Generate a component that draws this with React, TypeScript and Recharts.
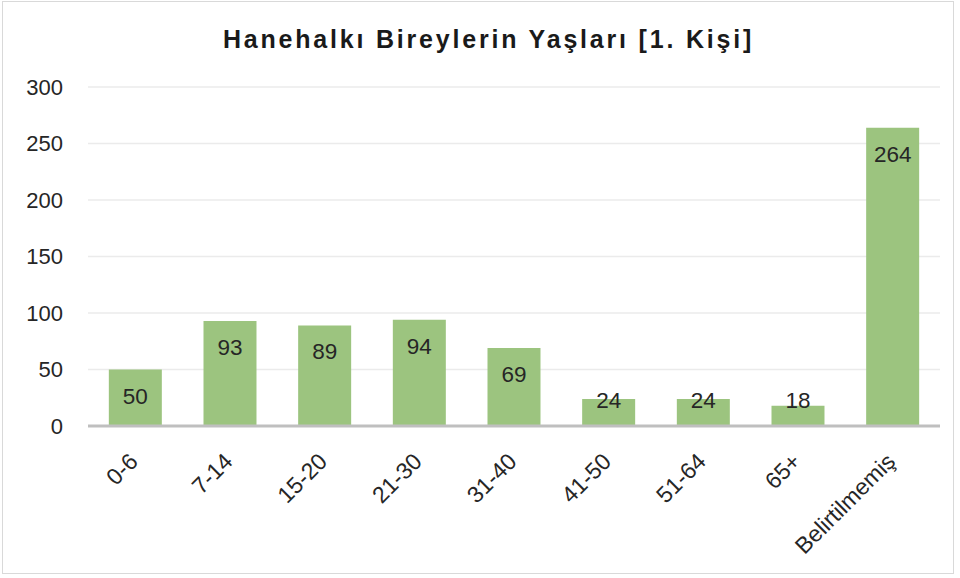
import { BarChart, Bar, XAxis, YAxis, CartesianGrid, LabelList } from 'recharts';

// age groups and counts
const ageGroups = ['0-6', '7-14', '15-20', '21-30', '31-40', '41-50', '51-64', '65+', 'Belirtilmemiş'];
const counts = [50, 93, 89, 94, 69, 24, 24, 18, 264];
const yTicks = [0, 50, 100, 150, 200, 250, 300];

const chartData = ageGroups.map((group, i) => ({ group, count: counts[i] }));

const FONT = '"Liberation Sans", Arial, sans-serif';
const barColor = '#9cc47f';
const textColor = '#262626';

// rotated category label, end of text sits just right of the category centre
const AngledTick = (props: any) => {
  const { x, y, payload } = props;
  const tx = x + 4;
  const ty = y + 29;
  return (
    <text
      x={tx}
      y={ty}
      textAnchor="end"
      transform={`rotate(-45, ${tx}, ${ty})`}
      fontFamily={FONT}
      fontSize={23}
      fill={textColor}
    >
      {payload.value}
    </text>
  );
};

// inside-end label; short bars push it up so it stays above the axis
const InsideEndLabel = (props: any) => {
  const { x, y, width, height, value } = props;
  const baseline = Math.min(y + 34, y + height - 18);
  return (
    <text
      x={x + width / 2}
      y={baseline}
      textAnchor="middle"
      fontFamily={FONT}
      fontSize={22.5}
      fill={textColor}
    >
      {value}
    </text>
  );
};

export default function App() {
  return (
    <div style={{ position: 'absolute', left: 0, top: 0, width: 960, height: 578, background: '#fff' }}>
      <div
        style={{
          position: 'absolute',
          left: 2,
          top: 1,
          width: 952,
          height: 573,
          border: '1px solid #d9d9d9',
          boxSizing: 'border-box',
        }}
      />
      <div
        style={{
          position: 'absolute',
          left: 0,
          top: 25,
          width: 977,
          textAlign: 'center',
          fontFamily: FONT,
          fontWeight: 'bold',
          fontSize: 25,
          letterSpacing: 2.8,
          color: '#1a1a1a',
        }}
      >
        Hanehalkı Bireylerin Yaşları [1. Kişi]
      </div>
      <BarChart
        width={960}
        height={578}
        data={chartData}
        margin={{ top: 87, right: 20, left: 0, bottom: 22 }}
        barCategoryGap="22%"
      >
        <CartesianGrid vertical={false} stroke="#ebebeb" strokeWidth={1.5} />
        <XAxis
          dataKey="group"
          interval={0}
          height={130}
          tickLine={false}
          axisLine={{ stroke: '#bfbfbf', strokeWidth: 3 }}
          tick={<AngledTick />}
        />
        <YAxis
          width={88}
          domain={[0, 300]}
          ticks={yTicks}
          axisLine={false}
          tickLine={false}
          tickMargin={19}
          tick={{ fontFamily: FONT, fontSize: 22, fill: textColor }}
        />
        <Bar dataKey="count" fill={barColor} isAnimationActive={false}>
          <LabelList dataKey="count" content={<InsideEndLabel />} />
        </Bar>
      </BarChart>
    </div>
  );
}
